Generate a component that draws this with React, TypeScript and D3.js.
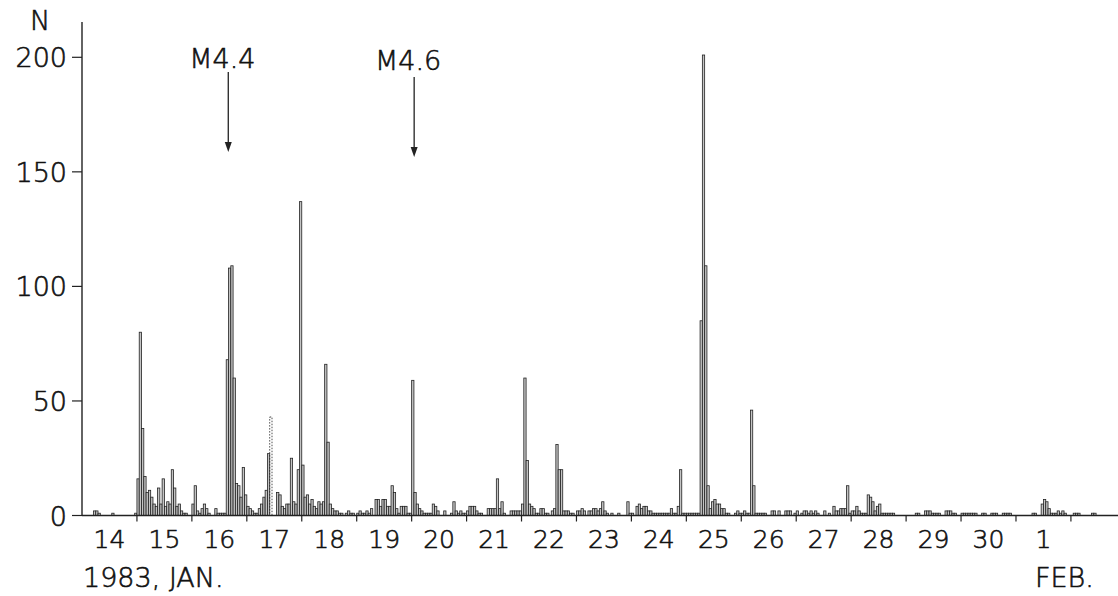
import React, { useEffect, useRef } from 'react';
import * as d3 from 'd3';

// hourly counts, one array per day (24 hours each)
const jan14 = [0,0,0,0,0,2,2,1,0,0,0,0,0,1,0,0,0,0,0,0,0,0,0,1];
const jan15 = [16,80,38,17,10,11,8,5,4,12,5,16,4,6,5,20,12,4,5,2,1,1,0,0];
const jan16 = [5,13,2,1,3,5,3,1,0,0,3,1,1,1,1,68,108,109,60,14,13,8,21,9];
const jan17 = [4,3,2,1,1,3,5,8,11,27,43,0,0,10,9,4,3,5,5,25,6,5,20,137];
const jan18 = [22,8,9,5,7,4,3,6,5,6,66,32,5,3,2,2,1,1,0,1,2,1,1,0];
const jan19 = [1,2,1,1,2,1,3,0,7,7,4,7,7,4,4,13,10,3,1,4,4,4,1,1];
const jan20 = [59,10,5,3,2,1,1,1,1,5,4,2,0,0,2,0,0,1,6,2,1,2,1,1];
const jan21 = [2,4,4,4,2,1,1,0,0,3,3,3,3,16,3,6,1,0,0,2,2,2,2,2];
const jan22 = [5,60,24,5,4,3,1,1,3,3,1,1,0,2,3,31,20,20,2,2,2,1,1,0];
const jan23 = [2,2,3,2,0,2,2,3,3,2,3,6,2,1,0,1,0,0,1,0,0,0,6,1];
const jan24 = [1,0,4,5,3,4,4,2,2,1,1,1,1,1,1,1,1,3,1,1,4,20,1,1];
const jan25 = [1,1,1,1,1,1,85,201,109,13,3,6,7,5,5,3,3,1,1,0,0,1,2,1];
const jan26 = [1,2,1,1,46,13,1,1,1,1,1,0,0,2,2,0,2,0,0,2,2,2,0,1];
const jan27 = [2,0,1,2,2,1,2,1,2,1,0,0,2,0,1,0,4,2,2,3,3,3,13,1];
const jan28 = [2,2,4,2,1,1,1,9,8,6,2,4,5,1,1,1,1,1,1,0,0,0,0,0];
const jan29 = [0,0,0,0,1,1,0,0,2,2,2,1,1,1,1,0,0,2,2,2,1,1,0,0];
const jan30 = [1,1,1,1,1,1,1,0,0,1,1,0,0,1,1,1,0,0,1,1,1,1,0,0];
const feb01 = [0,0,0,0,0,0,0,1,1,0,0,5,7,6,3,1,1,1,2,1,2,1,0,0];
const feb02 = [0,1,1,1,0,0,0,0,0,1,1,0,0,0,0,0,0,0,0,0,0];

const days = [jan14, jan15, jan16, jan17, jan18, jan19, jan20, jan21, jan22, jan23,
  jan24, jan25, jan26, jan27, jan28, jan29, jan30, feb01, feb02];
const dayLabels = ['14','15','16','17','18','19','20','21','22','23','24','25','26','27','28','29','30','1'];
const yTicks = [0, 50, 100, 150, 200];

// hours (from 14 Jan 00h) drawn with a dotted outline
const dottedHours = [82];

// main shocks, hour offset from 14 Jan 00h
const shockLabels = ['M4.4', 'M4.6'];
const shockHours = [63.9, 145.1];

const W = 1118;
const H = 596;
const FONT = '"DejaVu Sans", sans-serif';

export default function App() {
  const svgRef = useRef<SVGSVGElement>(null);

  useEffect(() => {
    const svg = d3.select(svgRef.current);
    svg.selectAll('*').remove();

    const hourly = days.flat().map((v, i) => ({ h: i, v }));
    const nDays = 19;

    const x = d3.scaleLinear().domain([0, nDays * 24]).range([82, 82 + nDays * 54.94]);
    const y = d3.scaleLinear().domain([0, 200]).range([515.5, 57.3]);

    const g = svg.append('g');

    // lettering: thin face with a light outline, like the pen lettering
    const letter = (sel: any, size: number) =>
      sel
        .attr('font-family', FONT)
        .attr('font-size', size)
        .attr('font-weight', 200)
        .attr('fill', '#111')
        .attr('stroke', '#111')
        .attr('stroke-width', 0.6);

    // bars
    g.selectAll('rect.bar')
      .data(hourly.filter((d) => d.v > 0))
      .enter()
      .append('rect')
      .attr('class', 'bar')
      .attr('x', (d) => x(d.h))
      .attr('width', (d) => x(d.h + 1) - x(d.h))
      .attr('y', (d) => y(d.v))
      .attr('height', (d) => y(0) - y(d.v))
      .attr('fill', (d) => (dottedHours.includes(d.h) ? 'none' : '#c4c4c4'))
      .attr('stroke', '#222')
      .attr('stroke-width', 0.8)
      .attr('stroke-dasharray', (d) => (dottedHours.includes(d.h) ? '1.5,1.5' : null));

    // y axis
    g.append('line')
      .attr('x1', 82).attr('x2', 82)
      .attr('y1', 22).attr('y2', y(0))
      .attr('stroke', '#222').attr('stroke-width', 1.4);

    g.selectAll('line.ytick')
      .data(yTicks)
      .enter()
      .append('line')
      .attr('x1', 72).attr('x2', 82)
      .attr('y1', (d) => y(d)).attr('y2', (d) => y(d))
      .attr('stroke', '#222').attr('stroke-width', 1.2);

    letter(
      g.selectAll('text.ylab')
        .data(yTicks)
        .enter()
        .append('text')
        .attr('x', 67)
        .attr('y', (d) => y(d) + 10)
        .attr('text-anchor', 'end'),
      27
    ).text((d) => d);

    letter(g.append('text').attr('x', 40).attr('y', 30).attr('text-anchor', 'middle'), 27).text('N');

    // x axis
    g.append('line')
      .attr('x1', 82).attr('x2', W)
      .attr('y1', y(0)).attr('y2', y(0))
      .attr('stroke', '#222').attr('stroke-width', 1.4);

    const dayTicks = d3.range(1, nDays).map((d) => d * 24);
    g.selectAll('line.xtick')
      .data(dayTicks)
      .enter()
      .append('line')
      .attr('x1', (d) => x(d)).attr('x2', (d) => x(d))
      .attr('y1', y(0)).attr('y2', y(0) + 6)
      .attr('stroke', '#222').attr('stroke-width', 1.2);

    letter(
      g.selectAll('text.xlab')
        .data(dayLabels)
        .enter()
        .append('text')
        .attr('x', (_, i) => x(i * 24 + 12))
        .attr('y', 548)
        .attr('text-anchor', 'middle'),
      25
    ).text((d) => d);

    letter(g.append('text').attr('x', 83).attr('y', 587), 27).text('1983, JAN.');
    letter(g.append('text').attr('x', 1035).attr('y', 587), 27).text('FEB.');

    // shock arrows
    shockHours.forEach((h, i) => {
      const ax = x(h);
      const top = i === 0 ? 72 : 77;
      const tip = i === 0 ? 152 : 157;
      letter(
        g.append('text')
          .attr('x', ax - 6)
          .attr('y', i === 0 ? 68 : 70)
          .attr('text-anchor', 'middle'),
        27
      ).text(shockLabels[i]);
      g.append('line')
        .attr('x1', ax).attr('x2', ax)
        .attr('y1', top).attr('y2', tip - 8)
        .attr('stroke', '#222').attr('stroke-width', 1.3);
      g.append('path')
        .attr('d', d3.line()([[ax - 3.5, tip - 10], [ax + 3.5, tip - 10], [ax, tip]]) + 'Z')
        .attr('fill', '#222');
    });
  }, []);

  return (
    <svg
      ref={svgRef}
      width={W}
      height={H}
      style={{ position: 'absolute', left: 0, top: 0, background: '#fff' }}
    />
  );
}
